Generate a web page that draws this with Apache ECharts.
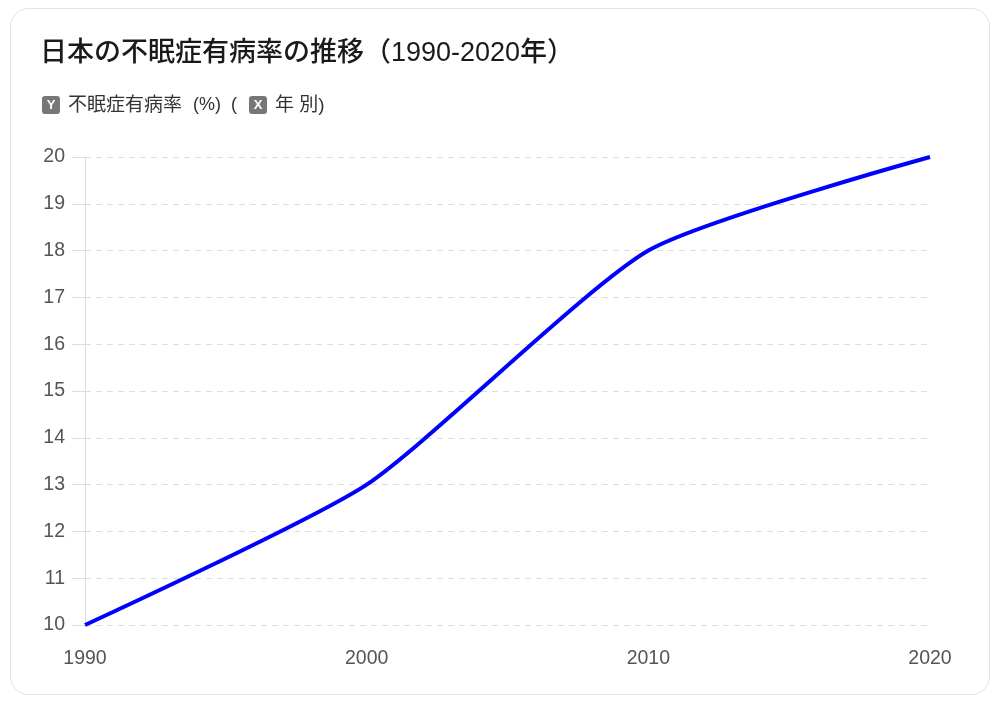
<!DOCTYPE html>
<html><head><meta charset="utf-8">
<script src="https://cdn.jsdelivr.net/npm/echarts@6/dist/echarts.min.js"></script>
<style>html,body{margin:0;padding:0;background:#fff}#c{width:1000px;height:705px}</style>
</head><body><div id="c"></div>
<script>
const titleText = '日本の不眠症有病率の推移（1990-2020年）';
const years = ['1990', '2000', '2010', '2020'];
const prevalence = [10, 13, 18, 20];
const yTicks = { min: 10, max: 20, interval: 1 };
const yLabel = '不眠症有病率';
const yUnit = '(%)';
const xLabel = '年 別)';

const FONT = '"Liberation Sans", "Noto Sans CJK JP", sans-serif';
const chart = echarts.init(document.getElementById('c'));
chart.setOption({
  animation: false,
  textStyle: { fontFamily: FONT },
  title: {
    text: titleText, left: 35, top: 35,
    textStyle: { fontFamily: FONT, fontSize: 27, fontWeight: 500, color: '#1a1a1a' }
  },
  graphic: [
    { type: 'rect', shape: { x: 10.5, y: 8.5, width: 979, height: 686, r: 18 }, style: { fill: '#fff', stroke: '#e2e2e2', lineWidth: 1 }, z: -10 },
    { type: 'rect', shape: { x: 42, y: 96, width: 18, height: 18, r: 3 }, style: { fill: '#777' } },
    { type: 'text', x: 51, y: 105.5, style: { text: 'Y', fill: '#fff', font: 'bold 13px ' + FONT, align: 'center', verticalAlign: 'middle' } },
    { type: 'text', x: 68, y: 105.5, style: { text: yLabel, fill: '#333', font: '19px ' + FONT, verticalAlign: 'middle' } },
    { type: 'text', x: 221, y: 105.5, style: { text: yUnit, fill: '#333', font: '18px ' + FONT, align: 'right', verticalAlign: 'middle' } },
    { type: 'text', x: 231, y: 105.5, style: { text: '(', fill: '#333', font: '18px ' + FONT, verticalAlign: 'middle' } },
    { type: 'rect', shape: { x: 249, y: 96, width: 18, height: 18, r: 3 }, style: { fill: '#777' } },
    { type: 'text', x: 258, y: 105.5, style: { text: 'X', fill: '#fff', font: 'bold 13px ' + FONT, align: 'center', verticalAlign: 'middle' } },
    { type: 'text', x: 275, y: 105.5, style: { text: xLabel, fill: '#333', font: '19px ' + FONT, verticalAlign: 'middle' } }
  ],
  grid: { left: 85, right: 70, top: 157, bottom: 80 },
  xAxis: {
    type: 'category', data: years, boundaryGap: false,
    axisLine: { show: false }, axisTick: { show: false },
    axisLabel: { color: '#555', fontSize: 19.5, margin: 24 },
    splitLine: { show: false }
  },
  yAxis: {
    type: 'value', min: yTicks.min, max: yTicks.max, interval: yTicks.interval,
    axisLine: { show: true, lineStyle: { color: '#ddd' } },
    axisTick: { show: true, length: 13, lineStyle: { color: '#ddd' } },
    axisLabel: { color: '#555', fontSize: 19.5, margin: 20 },
    splitLine: { show: true, lineStyle: { color: '#dedede', type: [6, 5] } }
  },
  series: [{
    type: 'line', data: prevalence, smooth: 0.2, symbol: 'none',
    lineStyle: { color: '#0000ff', width: 4 }
  }]
});
</script></body></html>
